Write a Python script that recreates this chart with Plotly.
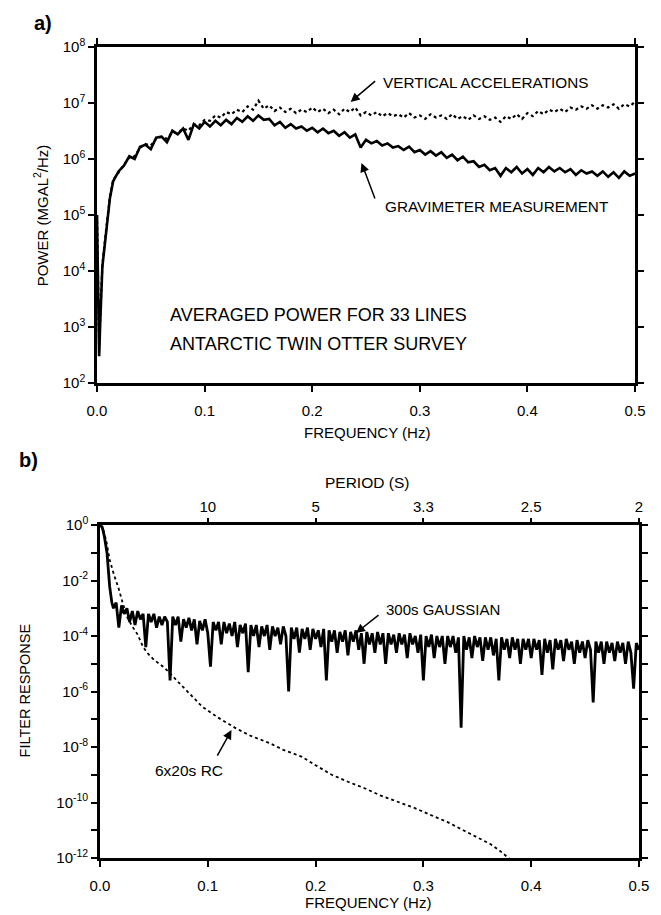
import plotly.graph_objects as go

# ---------------- Panel a) : averaged power spectra ----------------
top_freq = [0.0, 0.001, 0.002, 0.003, 0.005, 0.008, 0.010, 0.012,
            0.015, 0.02, 0.025, 0.03, 0.035, 0.04, 0.045, 0.05, 0.055, 0.06,
            0.065, 0.07, 0.075, 0.08, 0.085, 0.09, 0.095, 0.1, 0.105, 0.11,
            0.115, 0.12, 0.125, 0.13, 0.135, 0.14, 0.145, 0.15, 0.155, 0.16,
            0.165, 0.17, 0.175, 0.18, 0.185, 0.19, 0.195, 0.2, 0.205, 0.21,
            0.215, 0.22, 0.225, 0.23, 0.235, 0.24, 0.245, 0.25, 0.255, 0.26,
            0.265, 0.27, 0.275, 0.28, 0.285, 0.29, 0.295, 0.3, 0.305, 0.31,
            0.315, 0.32, 0.325, 0.33, 0.335, 0.34, 0.345, 0.35, 0.355, 0.36,
            0.365, 0.37, 0.375, 0.38, 0.385, 0.39, 0.395, 0.4, 0.405, 0.41,
            0.415, 0.42, 0.425, 0.43, 0.435, 0.44, 0.445, 0.45, 0.455, 0.46,
            0.465, 0.47, 0.475, 0.48, 0.485, 0.49, 0.495, 0.5]

gravimeter_power = [1.0e5, 3.0e3, 3.0e2, 1.2e3, 1.2e4, 4.0e4, 1.0e5, 2.0e5,
                    4.0e5, 6.0e5, 7.6e5, 1.12e6, 1.0e6, 1.66e6, 1.8e6, 1.5e6, 2.4e6, 2.5e6,
                    2.0e6, 3.2e6, 2.75e6, 3.5e6, 2.2e6, 4.2e6, 3.5e6, 4.6e6, 3.8e6, 4.8e6,
                    4.0e6, 5.0e6, 4.2e6, 5.4e6, 4.6e6, 5.8e6, 4.8e6, 6.0e6, 5.0e6, 5.2e6,
                    4.0e6, 4.6e6, 3.6e6, 4.2e6, 3.5e6, 3.8e6, 3.2e6, 3.6e6, 3.0e6, 3.5e6,
                    2.9e6, 3.2e6, 2.6e6, 3.0e6, 2.4e6, 2.75e6, 1.6e6, 2.2e6, 1.9e6, 2.1e6,
                    1.74e6, 1.9e6, 1.6e6, 1.7e6, 1.45e6, 1.66e6, 1.32e6, 1.45e6, 1.2e6, 1.38e6,
                    1.15e6, 1.32e6, 1.05e6, 1.2e6, 9.5e5, 1.1e6, 8.7e5, 9.1e5, 7.2e5, 7.9e5,
                    6.3e5, 6.9e5, 5.0e5, 6.9e5, 5.8e5, 7.2e5, 5.5e5, 6.6e5, 5.2e5, 6.9e5,
                    5.8e5, 7.2e5, 6.0e5, 6.9e5, 5.8e5, 6.6e5, 5.2e5, 6.3e5, 5.5e5, 6.0e5,
                    5.0e5, 6.0e5, 4.8e5, 5.8e5, 4.6e5, 6.0e5, 5.0e5, 5.5e5]

vertical_acc_power = [1.0e5, 2.0e3, 4.0e2, 1.5e3, 1.3e4, 4.5e4, 1.1e5, 2.1e5,
                      4.2e5, 5.8e5, 7.9e5, 1.07e6, 1.12e6, 1.58e6, 1.86e6, 1.74e6, 2.3e6, 2.5e6,
                      2.3e6, 3.0e6, 2.9e6, 3.5e6, 3.2e6, 4.2e6, 4.0e6, 5.0e6, 4.8e6, 6.0e6,
                      5.5e6, 6.9e6, 6.3e6, 7.6e6, 6.9e6, 8.7e6, 7.6e6, 1.1e7, 7.9e6, 9.1e6,
                      7.2e6, 8.3e6, 6.9e6, 7.9e6, 6.6e6, 7.6e6, 6.9e6, 8.3e6, 6.9e6, 7.9e6,
                      6.6e6, 7.6e6, 6.3e6, 7.9e6, 6.9e6, 8.3e6, 6.0e6, 6.9e6, 6.0e6, 6.9e6,
                      5.8e6, 6.6e6, 5.8e6, 6.3e6, 5.5e6, 6.6e6, 5.5e6, 6.0e6, 5.2e6, 6.3e6,
                      5.5e6, 6.0e6, 5.2e6, 6.3e6, 5.2e6, 5.8e6, 5.0e6, 6.0e6, 5.2e6, 5.8e6,
                      5.0e6, 5.5e6, 4.6e6, 5.8e6, 5.2e6, 6.3e6, 5.2e6, 6.6e6, 5.8e6, 7.2e6,
                      6.3e6, 7.6e6, 6.9e6, 7.9e6, 6.9e6, 8.3e6, 7.6e6, 8.7e6, 7.9e6, 9.1e6,
                      7.9e6, 9.1e6, 8.3e6, 9.5e6, 7.9e6, 9.5e6, 8.7e6, 1.05e7]

# ---------------- Panel b) : filter responses ----------------
gauss_freq = [0.0, 0.002, 0.004, 0.0065, 0.009, 0.011,
              0.0125, 0.015, 0.0175, 0.02, 0.0225, 0.025, 0.0275, 0.03, 0.0325, 0.035,
              0.0375, 0.04, 0.0425, 0.045, 0.0475, 0.05, 0.0525, 0.055, 0.0575, 0.06,
              0.0625, 0.065, 0.0675, 0.07, 0.0725, 0.075, 0.0775, 0.08, 0.0825, 0.085,
              0.0875, 0.09, 0.0925, 0.095, 0.0975, 0.1, 0.1025, 0.105, 0.1075, 0.11,
              0.1125, 0.115, 0.1175, 0.12, 0.1225, 0.125, 0.1275, 0.13, 0.1325, 0.135,
              0.1375, 0.14, 0.1425, 0.145, 0.1475, 0.15, 0.1525, 0.155, 0.1575, 0.16,
              0.1625, 0.165, 0.1675, 0.17, 0.1725, 0.175, 0.1775, 0.18, 0.1825, 0.185,
              0.1875, 0.19, 0.1925, 0.195, 0.1975, 0.2, 0.2025, 0.205, 0.2075, 0.21,
              0.2125, 0.215, 0.2175, 0.22, 0.2225, 0.225, 0.2275, 0.23, 0.2325, 0.235,
              0.2375, 0.24, 0.2425, 0.245, 0.2475, 0.25, 0.2525, 0.255, 0.2575, 0.26,
              0.2625, 0.265, 0.2675, 0.27, 0.2725, 0.275, 0.2775, 0.28, 0.2825, 0.285,
              0.2875, 0.29, 0.2925, 0.295, 0.2975, 0.3, 0.3025, 0.305, 0.3075, 0.31,
              0.3125, 0.315, 0.3175, 0.32, 0.3225, 0.325, 0.3275, 0.33, 0.3325, 0.335,
              0.3375, 0.34, 0.3425, 0.345, 0.3475, 0.35, 0.3525, 0.355, 0.3575, 0.36,
              0.3625, 0.365, 0.3675, 0.37, 0.3725, 0.375, 0.3775, 0.38, 0.3825, 0.385,
              0.3875, 0.39, 0.3925, 0.395, 0.3975, 0.4, 0.4025, 0.405, 0.4075, 0.41,
              0.4125, 0.415, 0.4175, 0.42, 0.4225, 0.425, 0.4275, 0.43, 0.4325, 0.435,
              0.4375, 0.44, 0.4425, 0.445, 0.4475, 0.45, 0.4525, 0.455, 0.4575, 0.46,
              0.4625, 0.465, 0.4675, 0.47, 0.4725, 0.475, 0.4775, 0.48, 0.4825, 0.485,
              0.4875, 0.49, 0.4925, 0.495, 0.4975, 0.5]

gauss_response = [1.0, 0.85, 0.4, 0.1, 6.0e-3, 1.6e-3,
                  1.0e-3, 1.6e-3, 2.0e-4, 1.26e-3, 6.3e-4, 1.0e-3, 3.2e-4, 7.9e-4, 2.5e-4, 7.9e-4,
                  4.0e-4, 6.3e-4, 4.0e-5, 6.3e-4, 3.2e-4, 6.3e-4, 2.0e-4, 5.0e-4, 2.5e-4, 5.0e-4,
                  3.2e-4, 2.5e-6, 5.0e-4, 2.5e-4, 5.0e-4, 6.3e-5, 4.0e-4, 2.0e-4, 4.5e-4, 1.6e-4,
                  4.0e-4, 5.0e-5, 3.5e-4, 1.6e-4, 4.0e-4, 1.26e-4, 7.9e-6, 3.2e-4, 1.6e-4, 3.2e-4,
                  5.0e-5, 3.2e-4, 1.26e-4, 2.8e-4, 1.0e-4, 3.2e-4, 4.0e-5, 2.5e-4, 1.26e-4, 2.8e-4,
                  5.0e-6, 2.5e-4, 1.0e-4, 2.5e-4, 4.0e-5, 2.2e-4, 1.0e-4, 2.5e-4, 3.2e-5, 2.2e-4,
                  1.0e-4, 2.0e-4, 5.0e-5, 2.2e-4, 1.0e-4, 1.0e-6, 2.0e-4, 7.9e-5, 2.0e-4, 2.5e-5,
                  1.8e-4, 7.9e-5, 2.0e-4, 3.2e-5, 1.8e-4, 7.9e-5, 1.6e-4, 4.0e-5, 1.8e-4, 2.5e-6,
                  1.6e-4, 6.3e-5, 1.6e-4, 2.5e-5, 1.4e-4, 6.3e-5, 1.6e-4, 2.0e-5, 1.4e-4, 6.3e-5,
                  1.6e-4, 3.2e-5, 1.26e-4, 1.0e-5, 1.4e-4, 5.0e-5, 1.26e-4, 2.5e-5, 1.4e-4, 5.0e-5,
                  1.26e-4, 1.0e-5, 1.26e-4, 5.0e-5, 1.12e-4, 2.5e-5, 1.26e-4, 5.0e-5, 1.12e-4, 1.6e-5,
                  1.26e-4, 5.0e-5, 1.0e-4, 2.5e-5, 1.12e-4, 2.5e-6, 1.0e-4, 4.0e-5, 1.12e-4, 1.6e-5,
                  1.0e-4, 4.0e-5, 1.0e-4, 1.0e-5, 1.0e-4, 4.0e-5, 1.0e-4, 2.5e-5, 8.9e-5, 5.0e-8,
                  1.0e-4, 3.2e-5, 8.9e-5, 1.6e-5, 1.0e-4, 4.0e-5, 8.9e-5, 1.26e-5, 8.9e-5, 3.2e-5,
                  8.9e-5, 2.0e-5, 7.9e-5, 2.5e-6, 8.9e-5, 3.2e-5, 7.9e-5, 1.6e-5, 8.9e-5, 3.2e-5,
                  7.9e-5, 1.0e-5, 7.9e-5, 3.2e-5, 7.9e-5, 1.6e-5, 7.9e-5, 3.2e-5, 7.1e-5, 4.0e-6,
                  7.9e-5, 2.5e-5, 7.1e-5, 6.3e-6, 7.9e-5, 3.2e-5, 7.1e-5, 1.26e-5, 7.9e-5, 3.2e-5,
                  6.3e-5, 1.0e-5, 7.1e-5, 2.5e-5, 6.3e-5, 1.6e-5, 7.1e-5, 3.2e-5, 4.0e-7, 6.3e-5,
                  2.5e-5, 6.3e-5, 1.0e-5, 6.3e-5, 2.5e-5, 5.6e-5, 1.26e-5, 6.3e-5, 2.5e-5, 5.6e-5,
                  1.0e-5, 6.3e-5, 2.5e-5, 1.26e-6, 5.6e-5, 3.2e-5]

rc_freq = [0.0, 0.003, 0.006, 0.009, 0.013, 0.017, 0.021, 0.025, 0.030, 0.035,
           0.040, 0.045, 0.050, 0.060, 0.070, 0.080, 0.095, 0.110, 0.125, 0.140,
           0.157, 0.170, 0.187, 0.200, 0.215, 0.230, 0.246, 0.260, 0.277, 0.292,
           0.307, 0.322, 0.337, 0.350, 0.362, 0.371, 0.379, 0.390]

rc_response = [1.0, 0.71, 0.25, 5.6e-2, 1.6e-2, 5.6e-3, 1.6e-3, 5.0e-4, 2.2e-4, 1.12e-4,
               4.0e-5, 2.2e-5, 1.4e-5, 7.1e-6, 2.8e-6, 1.12e-6, 2.8e-7, 1.12e-7, 5.0e-8, 2.5e-8,
               1.4e-8, 7.9e-9, 4.5e-9, 2.2e-9, 1.0e-9, 5.6e-10, 3.2e-10, 1.8e-10, 1.0e-10, 6.3e-11,
               3.5e-11, 2.0e-11, 1.0e-11, 5.6e-12, 3.2e-12, 1.8e-12, 1.0e-12, 5.0e-13]

freq_ticks = [0.0, 0.1, 0.2, 0.3, 0.4, 0.5]
freq_tick_labels = ["0.0", "0.1", "0.2", "0.3", "0.4", "0.5"]
period_ticks = [0.1, 0.2, 0.3, 0.4, 0.5]
period_tick_labels = ["10", "5", "3.3", "2.5", "2"]
power_exponents = [2, 3, 4, 5, 6, 7, 8]
response_major_exponents = [0, -2, -4, -6, -8, -10, -12]
response_minor_exponents = [-1, -3, -5, -7, -9, -11]

FONT = "Liberation Sans, Arial, Helvetica, sans-serif"

fig = go.Figure()

fig.add_trace(go.Scatter(x=top_freq, y=vertical_acc_power, mode="lines",
                         line=dict(color="black", width=2.2, dash="dot"),
                         xaxis="x", yaxis="y", showlegend=False, hoverinfo="skip"))
fig.add_trace(go.Scatter(x=top_freq, y=gravimeter_power, mode="lines",
                         line=dict(color="black", width=2.6),
                         xaxis="x", yaxis="y", showlegend=False, hoverinfo="skip"))
fig.add_trace(go.Scatter(x=rc_freq, y=rc_response, mode="lines",
                         line=dict(color="black", width=1.8, dash="dot"),
                         xaxis="x3", yaxis="y2", showlegend=False, hoverinfo="skip"))
fig.add_trace(go.Scatter(x=gauss_freq, y=gauss_response, mode="lines",
                         line=dict(color="black", width=2.8),
                         xaxis="x2", yaxis="y2", showlegend=False, hoverinfo="skip"))

axis_common = dict(showline=True, linecolor="black", linewidth=2.5, ticks="outside",
                   ticklen=6, tickwidth=1.5, tickcolor="black", showgrid=False,
                   zeroline=False, tickfont=dict(family=FONT, size=15, color="black"))

def sup_labels(exps):
    return ["10<sup>%d</sup>" % e for e in exps]

fig.update_layout(
    width=653, height=907,
    margin=dict(l=89, r=19, t=39, b=57),
    paper_bgcolor="white", plot_bgcolor="white",
    font=dict(family=FONT, color="black"),
    xaxis=dict(domain=[0, 0.9927], anchor="y", range=[0, 0.5],
               tickvals=freq_ticks, ticktext=freq_tick_labels, mirror="ticks",
               ticklabelstandoff=6, **axis_common),
    yaxis=dict(domain=[0.5857, 1], anchor="x", type="log", range=[2, 8],
               tickvals=[10.0 ** e for e in power_exponents],
               ticktext=sup_labels(power_exponents), mirror="ticks", **axis_common),
    xaxis2=dict(domain=[0.0055, 1], anchor="y2", range=[0, 0.5],
                tickvals=freq_ticks, ticktext=freq_tick_labels, mirror=True,
                ticklabelstandoff=6, **axis_common),
    xaxis3=dict(domain=[0.0055, 1], anchor="y2", overlaying="x2", side="top",
                range=[0, 0.5], tickvals=period_ticks, ticktext=period_tick_labels,
                **{k: v for k, v in axis_common.items() if k != "showline"},
                showline=False),
    yaxis2=dict(domain=[0, 0.4106], anchor="x2", type="log", range=[-12, 0],
                tickvals=[10.0 ** e for e in response_major_exponents],
                ticktext=sup_labels(response_major_exponents),
                minor=dict(tickmode="array",
                           tickvals=[10.0 ** e for e in response_minor_exponents],
                           ticks="outside", ticklen=6, tickwidth=1.5, tickcolor="black"),
                mirror="ticks", **axis_common),
)

def pap(xpx, ypx):
    return (xpx - 97) / 545.0, (858 - ypx) / 811.0

ann = []
def label(xpx, ypx, text, size, bold=False, angle=0, anchor="center"):
    x, y = pap(xpx, ypx)
    t = "<b>%s</b>" % text if bold else text
    ann.append(dict(x=x, y=y, xref="paper", yref="paper", text=t, showarrow=False,
                    textangle=angle, xanchor=anchor, yanchor="middle",
                    font=dict(family=FONT, size=size, color="black")))

label(32, 23, "a)", 20, bold=True, anchor="left")
label(17, 460, "b)", 20, bold=True, anchor="left")
label(40, 215, "POWER (MGAL<sup>2</sup>/Hz)", 15, angle=-90)
label(25, 690, "FILTER RESPONSE", 14.5, angle=-90)
label(368, 432, "FREQUENCY (Hz)", 15)
label(370, 902, "FREQUENCY (Hz)", 15)
label(368, 482, "PERIOD (S)", 15.5)

def data_text(x, y, text, size, xref, yref):
    ann.append(dict(x=x, y=y, xref=xref, yref=yref, text=text, showarrow=False,
                    xanchor="left", yanchor="middle",
                    font=dict(family=FONT, size=size, color="black")))

def arrow(x, y, ax, ay, xref, yref):
    ann.append(dict(x=x, y=y, xref=xref, yref=yref, text="", showarrow=True,
                    ax=ax, ay=ay, axref="pixel", ayref="pixel",
                    arrowhead=2, arrowsize=1.2, arrowwidth=1.5, arrowcolor="black"))

data_text(0.2643, 7.375, "VERTICAL ACCELERATIONS", 15.3, "x", "y")
data_text(0.2662, 5.143, "GRAVIMETER MEASUREMENT", 15.3, "x", "y")
data_text(0.0656, 3.214, "AVERAGED POWER FOR 33 LINES", 18, "x", "y")
data_text(0.0656, 2.696, "ANTARCTIC TWIN OTTER SURVEY", 18, "x", "y")
arrow(0.2357, 7.02, 26, -22, "x", "y")
arrow(0.2458, 5.93, 14, 37, "x", "y")

data_text(0.2634, -3.06, "300s GAUSSIAN", 15, "x2", "y2")
data_text(0.049, -8.83, "6x20s RC", 15.5, "x2", "y2")
arrow(0.2375, -3.89, 24, -19, "x2", "y2")
arrow(0.122, -7.39, -15, 27, "x2", "y2")

fig.update_layout(annotations=ann)

fig.write_html("out.html")
